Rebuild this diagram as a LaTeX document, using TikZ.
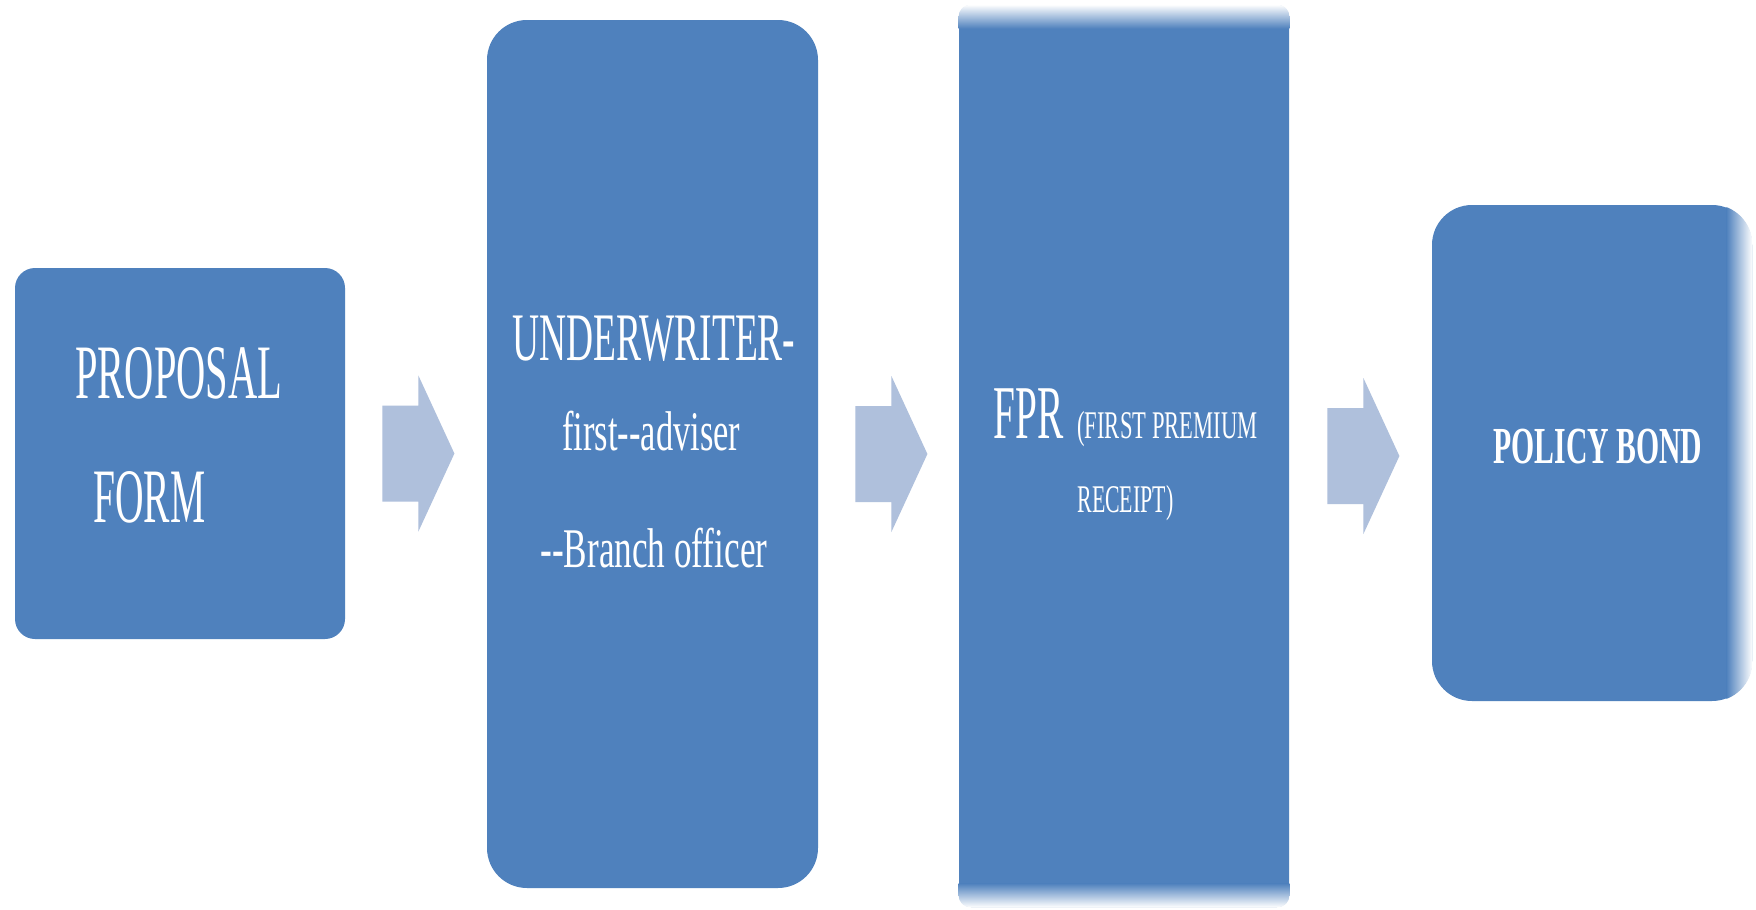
\documentclass[tikz,border=0pt]{standalone}
\usepackage{fontspec}
\setmainfont{Liberation Serif}
\usepackage{graphicx}
\usetikzlibrary{calc}
\definecolor{boxblue}{HTML}{4F81BD}
\definecolor{arrblue}{HTML}{AFC0DC}
\newcommand{\fitw}[3]{\resizebox{#1}{\height}{\fontsize{#2}{#2}\selectfont #3}}
\newcommand{\hy}{\mbox{-}}
\begin{document}
\begin{tikzpicture}[x=0.5pt,y=-0.5pt,
  box/.style={fill=boxblue, draw=none, inner sep=0pt},
  lbl/.style={text=white, anchor=base west, inner sep=0pt},
  blockarr/.pic={\fill[arrblue] (0,-48)--(36,-48)--(36,-78)--(72,0)--(36,78)--(36,48)--(0,48)--cycle;}
]
\useasboundingbox (0,0) rectangle (1756,910);
\fill[white] (0,0) rectangle (1756,910);

% boxes
\node[box, rounded corners=10pt, minimum width=165pt, minimum height=185.5pt] (proposal) at (180,453.5) {};
\node[box, rounded corners=20pt, minimum width=165.5pt, minimum height=434pt] (under) at (652.5,454) {};
\node[box, rounded corners=6pt, minimum width=165pt, minimum height=451pt] (fpr) at (1124,456) {};
\node[box, rounded corners=20pt, minimum width=160pt, minimum height=248pt] (bond) at (1592,453) {};

% fades
\begin{scope}
  \clip[rounded corners=6pt] (fpr.north west) rectangle (fpr.south east);
  \shade[top color=white, bottom color=boxblue] (fpr.north west) rectangle ($(fpr.north east)+(0,24)$);
  \shade[top color=boxblue, bottom color=white] ($(fpr.south west)+(0,-24)$) rectangle (fpr.south east);
\end{scope}
\begin{scope}
  \clip[rounded corners=20pt] (bond.north west) rectangle (bond.south east);
  \shade[left color=boxblue, right color=white] ($(bond.north east)+(-26,0)$) rectangle (bond.south east);
\end{scope}

% block arrows
\pic at ($(proposal.east)+(37,0)$) {blockarr};
\pic at ($(under.east)+(37,0)$) {blockarr};
\pic at ($(fpr.east)+(38,0)$) {blockarr};

% labels
\node[lbl] (t1) at (75,398) {\fitw{103.5pt}{38.5pt}{PROPOSAL}};
\node[lbl] (t2) at (93,522) {\fitw{56pt}{38.5pt}{FORM}};
\node[lbl] (t3) at (512,360) {\fitw{141.5pt}{34pt}{UNDERWRITER\hy}};
\node[lbl] (t4) at (562,450) {\fitw{89pt}{28pt}{first\hy\hy adviser}};
\node[lbl] (t5) at (540,567) {\fitw{113.5pt}{28pt}{\hy\hy Branch officer}};
\node[lbl] (t6) at (993,438) {\fitw{35pt}{38pt}{FPR}};
\node[lbl] (t7) at (1077,438) {\fitw{90pt}{19.6pt}{(FIRST PREMIUM}};
\node[lbl] (t8) at (1077,512) {\fitw{48pt}{19.6pt}{RECEIPT)}};
\node[lbl] (t9) at (1493,463) {\fitw{104.5pt}{26pt}{\bfseries POLICY BOND}};
\end{tikzpicture}
\end{document}
